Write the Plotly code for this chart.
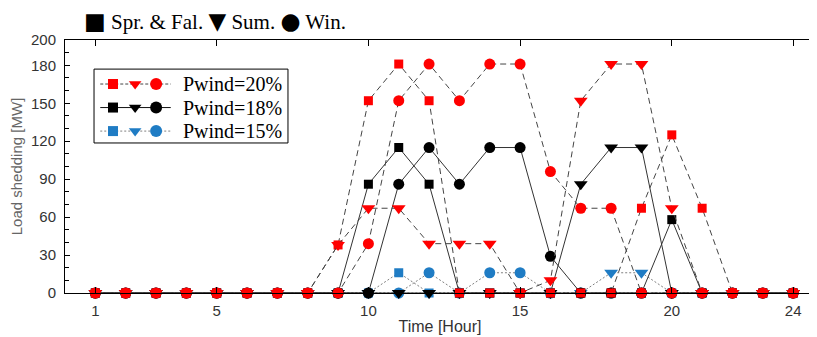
import plotly.graph_objects as go

hours = list(range(1, 25))

# Pwind = 20 %
spr_20 = [0, 0, 0, 0, 0, 0, 0, 0, 38, 152, 181, 152, 0, 0, 0, 0, 0, 0, 67, 125, 67, 0, 0, 0]
sum_20 = [0, 0, 0, 0, 0, 0, 0, 0, 38, 67, 67, 39, 39, 39, 0, 10, 152, 181, 181, 67, 0, 0, 0, 0]
win_20 = [0, 0, 0, 0, 0, 0, 0, 0, 0, 39, 152, 181, 152, 181, 181, 96, 67, 67, 0, 0, 0, 0, 0, 0]
# Pwind = 18 %
spr_18 = [0, 0, 0, 0, 0, 0, 0, 0, 0, 86, 115, 86, 0, 0, 0, 0, 0, 0, 0, 58, 0, 0, 0, 0]
sum_18 = [0, 0, 0, 0, 0, 0, 0, 0, 0, 0, 0, 0, 0, 0, 0, 0, 86, 115, 115, 0, 0, 0, 0, 0]
win_18 = [0, 0, 0, 0, 0, 0, 0, 0, 0, 0, 86, 115, 86, 115, 115, 29, 0, 0, 0, 0, 0, 0, 0, 0]
# Pwind = 15 %
spr_15 = [0, 0, 0, 0, 0, 0, 0, 0, 0, 0, 16, 0, 0, 0, 0, 0, 0, 0, 0, 0, 0, 0, 0, 0]
sum_15 = [0, 0, 0, 0, 0, 0, 0, 0, 0, 0, 0, 0, 0, 0, 0, 0, 0, 16, 16, 0, 0, 0, 0, 0]
win_15 = [0, 0, 0, 0, 0, 0, 0, 0, 0, 0, 0, 16, 0, 16, 16, 0, 0, 0, 0, 0, 0, 0, 0, 0]

x_tickvals = [1, 5, 10, 15, 20, 24]
y_tickvals = [0, 30, 60, 90, 120, 150, 180, 200]
legend_labels = ["Pwind=20%", "Pwind=18%", "Pwind=15%"]
season_glyphs = ["■", "▼", "●"]
season_names = ["Spr. &amp; Fal.", "Sum.", "Win."]

RED = "#ff0000"
BLACK = "#000000"
BLUE = "#1f7cc4"

groups = [
    ([spr_15, sum_15, win_15], BLUE, "#808080", "2px,2px"),
    ([spr_18, sum_18, win_18], BLACK, "#333333", "solid"),
    ([spr_20, sum_20, win_20], RED, "#444444", "6px,4px"),
]
symbols = ["square", "triangle-down", "circle"]
sizes = [9, 12, 11]

fig = go.Figure()
for series, mcol, lcol, dash in groups:
    for s, sym, sz in zip(series, symbols, sizes):
        fig.add_trace(go.Scatter(
            x=hours, y=s, mode="lines+markers",
            line=dict(color=lcol, width=1, dash=dash),
            marker=dict(symbol=sym, size=sz, color=mcol, line=dict(width=0)),
            cliponaxis=False, showlegend=False, hoverinfo="x+y",
        ))

# custom legend (box with three marker samples per row), on overlay axes in [0,1]
leg_rows = [(0.826, RED, "#444444", "3px,2px"),
            (0.733, BLACK, "#111111", "solid"),
            (0.640, BLUE, "#808080", "2px,2px")]
mk_x = [0.064, 0.0935, 0.1215]
for (ry, mcol, lcol, dash), lab in zip(leg_rows, legend_labels):
    fig.add_trace(go.Scatter(
        x=[0.047, 0.141], y=[ry, ry], mode="lines",
        line=dict(color=lcol, width=1, dash=dash),
        xaxis="x2", yaxis="y2", showlegend=False, hoverinfo="skip"))
    for mx, sym, sz in zip(mk_x, symbols, [10, 11, 12]):
        fig.add_trace(go.Scatter(
            x=[mx], y=[ry], mode="markers",
            marker=dict(symbol=sym, size=sz, color=mcol, line=dict(width=0)),
            xaxis="x2", yaxis="y2", showlegend=False, hoverinfo="skip"))
    fig.add_annotation(x=0.155, y=ry, xref="x2", yref="y2", text=lab,
                       showarrow=False, xanchor="left", yanchor="middle",
                       font=dict(family="Liberation Serif", size=20, color="#000"))

fig.add_shape(type="rect", xref="x2", yref="y2", x0=0.0387, x1=0.2973,
              y0=0.593, y1=0.885, line=dict(color="#000", width=1),
              fillcolor="rgba(0,0,0,0)")

season_text = " ".join(
    f"<span style='font-size:23px;font-family:DejaVu Sans'>{g}</span> {n}"
    for g, n in zip(season_glyphs, season_names))
fig.add_annotation(x=0.022, y=1.075, xref="paper", yref="paper", text=season_text,
                   showarrow=False, xanchor="left", yanchor="middle",
                   font=dict(family="Liberation Serif", size=21, color="#000"))

fig.update_layout(
    width=809, height=329,
    margin=dict(l=57, r=2, t=32, b=44),
    paper_bgcolor="white", plot_bgcolor="white",
    xaxis=dict(range=[0, 24.72], tickvals=x_tickvals, ticks="inside", ticklen=6,
               tickcolor="#000", showline=True, linecolor="#000", linewidth=1,
               mirror="ticks", showgrid=False, zeroline=False, ticklabelstandoff=4,
               tickfont=dict(family="Liberation Sans", size=15, color="#333"),
               title=dict(text="Time [Hour]", standoff=2,
                          font=dict(family="Liberation Sans", size=16, color="#333"))),
    yaxis=dict(range=[0, 200], tickvals=y_tickvals, ticks="inside", ticklen=5,
               tickcolor="#000", showline=True, linecolor="#000", linewidth=1,
               mirror="ticks", showgrid=False, zeroline=False, ticklabelstandoff=5,
               minor=dict(tickvals=list(range(0, 201, 10)), ticks="inside", ticklen=4,
                          tickcolor="#000"),
               tickfont=dict(family="Liberation Sans", size=15, color="#333"),
               title=dict(text="Load shedding [MW]", standoff=6,
                          font=dict(family="Liberation Sans", size=15, color="#666"))),
    xaxis2=dict(range=[0, 1], overlaying="x", visible=False, fixedrange=True),
    yaxis2=dict(range=[0, 1], overlaying="y", visible=False, fixedrange=True),
)

fig.write_html("out.html")
